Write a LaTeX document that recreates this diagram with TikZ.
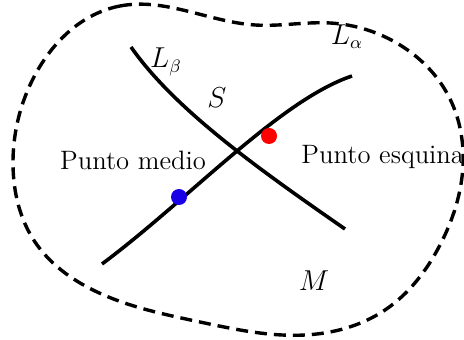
\documentclass[tikz,border=0pt]{standalone}
\usetikzlibrary{hobby}
\begin{document}
\begin{tikzpicture}[x=0.5pt,y=-0.5pt,
  curvestyle/.style={line width=1.8pt},
  regionstyle/.style={line width=1.7pt, dash pattern=on 6pt off 3.5pt},
  dotstyle/.style={circle, inner sep=0pt, minimum size=8pt},
  lbl/.style={font=\fontsize{13.3}{15}\selectfont, inner sep=0pt}]
\useasboundingbox (0,0) rectangle (464,340);
% region boundary
\draw[regionstyle, use Hobby shortcut, closed=true]
 (120,6) .. (255,25) .. (330,23) .. (400,45) .. (448,95) .. (463,165)
 .. (440,245) .. (385,310) .. (305,335) .. (200,322) .. (95,291)
 .. (35,242) .. (13,165) .. (35,75);
% curve endpoints
\coordinate (b0) at (131,47);
\coordinate (b1) at (345,229);
\coordinate (a0) at (102,264);
\coordinate (a1) at (352,76);
\draw[curvestyle] (b0) .. controls (175,110) and (260,170) .. (b1);
\draw[curvestyle] (a0) .. controls (188,200) and (280,100) .. (a1);
% points
\node[dotstyle, fill=blue!90!red] (pm) at (179,197) {};
\node[dotstyle, fill=red] (pe) at (269,136) {};
% labels
\node[lbl] (lb) at (166,62) {$L_\beta$};
\node[lbl] (s) at (217,98) {$S$};
\node[lbl] (la) at (347,37) {$L_\alpha$};
\node[lbl] (m) at (314,281) {$M$};
\node[lbl] (tm) at (133,160) {Punto medio};
\node[lbl, anchor=west] (te) at (301,157) {Punto esquina};
\end{tikzpicture}
\end{document}
